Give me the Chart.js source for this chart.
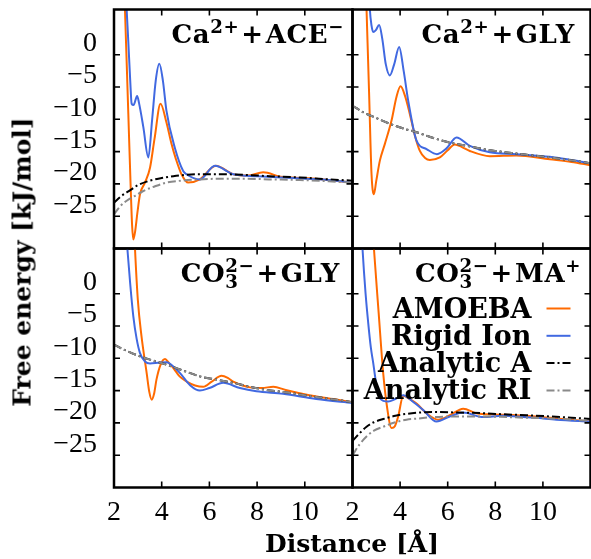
<!DOCTYPE html>
<html>
<head>
<meta charset="utf-8">
<script src="https://cdn.jsdelivr.net/npm/chart.js@4.4.1/dist/chart.umd.min.js"></script>
<style>
  body { margin: 0; background: #fff; }
  #fig { position: relative; width: 591px; height: 559px; overflow: hidden; }
  #fig canvas { position: absolute; left: 0; top: 0; }
  .lbl { position: absolute; font-family: "DejaVu Serif", serif; font-weight: bold; font-size: 25px; line-height: 1; white-space: nowrap; color: #000; }
  .ttl { font-size: 26px; letter-spacing: 0.6px; }
  .sp { font-size: 0.7em; position: relative; top: -0.55em; }
  .st { display: inline-block; position: relative; font-size: 0.7em; }
  .st .p { position: relative; top: -0.55em; }
  .st .b { position: absolute; left: 0; top: 0.33em; }
  .op { margin: 0 2px; }
  #ylab { left: 22px; top: 262px; transform: translate(-50%, -50%) rotate(-90deg); }
  #xlab { left: 352px; top: 543px; transform: translate(-50%, -50%); }
</style>
</head>
<body>
<div id="fig">
  <canvas id="tl" width="591" height="559"></canvas>
  <canvas id="tr" width="591" height="559"></canvas>
  <canvas id="bl" width="591" height="559"></canvas>
  <canvas id="br" width="591" height="559"></canvas>
  <div class="lbl ttl" style="right:247px;top:21px">Ca<span class="sp">2+</span><span class="op">+</span>ACE<span class="sp">&minus;</span></div>
  <div class="lbl ttl" style="right:16px;top:21px">Ca<span class="sp">2+</span><span class="op">+</span>GLY</div>
  <div class="lbl ttl" style="right:251px;top:260px">CO<span class="st"><span class="p">2&minus;</span><span class="b">3</span></span><span class="op">+</span>GLY</div>
  <div class="lbl ttl" style="right:10px;top:260px">CO<span class="st"><span class="p">2&minus;</span><span class="b">3</span></span><span class="op">+</span>MA<span class="sp">+</span></div>
  <div class="lbl" id="ylab">Free energy [kJ/mol]</div>
  <div class="lbl" id="xlab">Distance [Å]</div>
</div>
<script>
// axes
const xTicks = [2, 4, 6, 8, 10, 12];
const yTicks = [-25, -20, -15, -10, -5, 0];
const seriesNames = ['AMOEBA', 'Rigid Ion', 'Analytic A', 'Analytic RI'];

// Ca2+ + ACE-
const aceAmoebaR = [2.40, 2.50, 2.60, 2.70, 2.76, 2.81, 2.88, 2.98, 3.09, 3.30, 3.51, 3.70, 3.95, 4.20, 4.41, 4.60, 4.83, 5.11, 5.60, 6.27, 7.00, 7.60, 8.26, 9.00, 10.0, 11.0, 12.0];
const aceAmoebaG = [13.9, 2.4, -9.1, -20.6, -26.5, -28.6, -27.5, -24.5, -21.6, -19.8, -17.5, -13.0, -7.6, -10.5, -13.8, -16.2, -18.5, -19.8, -19.3, -17.2, -18.5, -18.7, -18.2, -18.9, -19.1, -19.4, -19.8];
const aceRigidR = [2.45, 2.53, 2.60, 2.68, 2.74, 2.82, 2.97, 3.05, 3.23, 3.44, 3.60, 3.75, 3.90, 4.05, 4.20, 4.55, 4.90, 5.04, 5.60, 6.23, 7.00, 8.00, 9.00, 10.0, 11.0, 12.0];
const aceRigidG = [13.0, 7.0, 2.0, -4.0, -7.6, -7.8, -6.4, -7.5, -11.2, -15.9, -10.0, -4.0, -1.4, -4.0, -8.7, -14.4, -18.0, -18.5, -19.3, -17.2, -18.5, -18.8, -19.0, -19.2, -19.4, -19.8];
const aceAR = [2.0, 2.3, 2.67, 3.0, 3.5, 4.0, 4.49, 5.0, 5.6, 6.5, 7.5, 8.5, 9.8, 11.0, 12.0];
const aceAG = [-22.9, -21.9, -21.0, -20.2, -19.5, -19.1, -18.8, -18.6, -18.5, -18.5, -18.6, -18.8, -19.0, -19.3, -19.5];
const aceRIR = [2.0, 2.25, 2.53, 2.9, 3.23, 3.7, 4.2, 4.8, 5.6, 6.5, 7.5, 8.5, 9.8, 11.0, 12.0];
const aceRIG = [-24.7, -23.5, -22.6, -21.8, -21.1, -20.4, -19.8, -19.5, -19.3, -19.2, -19.2, -19.3, -19.4, -19.6, -19.8];

// Ca2+ + GLY
const cgAmoebaR = [2.50, 2.59, 2.70, 2.80, 2.90, 3.00, 3.15, 3.36, 3.64, 3.85, 4.02, 4.20, 4.41, 4.62, 4.83, 5.05, 5.25, 5.67, 6.00, 6.30, 6.60, 6.93, 7.77, 8.89, 10.29, 11.2, 12.0];
const cgAmoebaG = [17.9, 7.0, -6.3, -18.5, -21.6, -19.5, -16.4, -13.8, -10.2, -6.5, -4.9, -6.3, -9.2, -12.5, -14.9, -16.0, -16.3, -15.9, -14.8, -13.9, -14.3, -14.9, -15.7, -15.6, -16.2, -16.6, -17.1];
const cgRigidR = [2.65, 2.73, 2.80, 2.87, 2.98, 3.12, 3.25, 3.40, 3.57, 3.75, 3.96, 4.15, 4.34, 4.69, 5.11, 5.55, 5.95, 6.37, 6.93, 7.77, 8.89, 10.29, 11.2, 12.0];
const cgRigidG = [14.0, 7.0, 4.5, 3.5, 3.8, 4.6, 2.5, -1.5, -3.2, -1.5, 1.2, -2.5, -7.1, -13.3, -14.6, -15.4, -14.5, -12.8, -14.1, -15.1, -15.4, -15.8, -16.3, -16.8];
const cgAnR = [2.0, 2.5, 3.0, 3.57, 4.2, 4.69, 5.4, 6.09, 6.8, 7.49, 8.2, 8.89, 9.6, 10.29, 11.1, 12.0];
const cgAnG = [-7.9, -9.0, -9.8, -10.7, -11.5, -12.0, -12.9, -13.6, -14.1, -14.6, -15.0, -15.3, -15.6, -15.9, -16.3, -16.8];

// CO3 2- + GLY
const ogAmoebaR = [2.80, 2.88, 3.00, 3.15, 3.37, 3.48, 3.58, 3.68, 3.78, 3.95, 4.14, 4.30, 4.49, 4.75, 5.05, 5.40, 5.74, 6.10, 6.51, 6.80, 7.00, 7.70, 8.20, 8.68, 9.20, 9.79, 10.5, 11.2, 12.0];
const ogAmoebaG = [14.0, 7.0, -1.0, -6.5, -12.3, -15.2, -16.4, -15.5, -13.3, -11.0, -10.1, -10.7, -11.5, -12.8, -13.6, -14.2, -14.4, -13.6, -12.7, -13.1, -13.6, -14.5, -14.6, -14.4, -14.9, -15.4, -15.9, -16.3, -16.8];
const ogRigidR = [2.45, 2.56, 2.68, 2.81, 2.95, 3.09, 3.30, 3.51, 3.85, 4.21, 4.50, 4.77, 5.20, 5.60, 6.00, 6.58, 7.28, 7.97, 9.09, 10.48, 12.0];
const ogRigidG = [13.0, 7.0, 1.5, -3.5, -7.0, -9.2, -10.5, -10.8, -10.7, -10.6, -11.3, -12.3, -14.2, -15.0, -14.6, -13.8, -14.6, -15.1, -15.5, -16.3, -16.9];
const ogAnR = [2.0, 2.5, 3.09, 3.6, 4.21, 4.9, 5.6, 6.3, 7.0, 7.7, 8.4, 9.1, 9.79, 10.9, 12.0];
const ogAnG = [-7.9, -8.8, -9.7, -10.3, -11.0, -11.9, -12.8, -13.3, -13.8, -14.4, -14.9, -15.2, -15.6, -16.2, -16.8];

// CO3 2- + MA+
const omAmoebaR = [2.85, 2.90, 3.10, 3.29, 3.45, 3.64, 3.78, 3.92, 4.13, 4.40, 4.69, 5.11, 5.60, 6.09, 6.65, 7.21, 8.00, 8.90, 9.70, 10.57, 12.0];
const omAmoebaG = [10.0, 7.0, -3.0, -12.3, -17.5, -20.8, -20.5, -19.0, -15.8, -16.3, -17.0, -18.5, -19.5, -18.8, -17.8, -18.5, -18.7, -18.8, -19.0, -19.3, -19.8];
const omRigidR = [2.35, 2.42, 2.55, 2.66, 2.77, 2.87, 3.00, 3.15, 3.50, 3.80, 4.13, 4.50, 4.97, 5.53, 6.09, 6.65, 7.49, 8.30, 8.89, 9.70, 10.57, 12.0];
const omRigidG = [12.0, 7.0, 0.0, -4.5, -8.3, -10.7, -14.0, -16.2, -16.7, -16.3, -15.7, -16.6, -18.0, -19.8, -19.0, -18.4, -19.1, -18.9, -19.0, -19.2, -19.5, -19.8];
const omAnR = [2.0, 2.3, 2.59, 2.9, 3.29, 3.8, 4.27, 4.8, 5.39, 6.5, 7.5, 8.5, 9.3, 10.29, 11.2, 12.0];
const omAG = [-22.8, -21.6, -20.6, -19.9, -19.4, -18.9, -18.6, -18.4, -18.3, -18.4, -18.5, -18.7, -18.8, -19.0, -19.2, -19.4];
const omRIG = [-25.0, -23.3, -22.1, -21.2, -20.6, -19.9, -19.5, -19.3, -19.1, -19.0, -19.0, -19.1, -19.2, -19.3, -19.5, -19.7];

// styles
const W = 591, H = 559;
const lineColors = ['#ff6a00', '#4169e1', '#000000', '#8a8a8a'];
const lineDash = [[], [], [8, 3, 2, 3], [8, 3, 2, 3]];
const tickFont = { family: 'Liberation Serif', size: 28 };

// inward ticks on all four sides + frame
const frame = {
  id: 'frame',
  afterDatasetsDraw(chart) {
    const { ctx, chartArea: a, scales: { x, y } } = chart;
    ctx.save();
    ctx.strokeStyle = '#000';
    ctx.lineWidth = 1.6;
    ctx.beginPath();
    x.ticks.forEach(t => {
      if (t.value <= x.min || t.value >= x.max) return;
      const px = x.getPixelForValue(t.value);
      ctx.moveTo(px, a.top); ctx.lineTo(px, a.top + 6);
      ctx.moveTo(px, a.bottom); ctx.lineTo(px, a.bottom - 6);
    });
    y.ticks.forEach(t => {
      const py = y.getPixelForValue(t.value);
      ctx.moveTo(a.left, py); ctx.lineTo(a.left + 6, py);
      ctx.moveTo(a.right, py); ctx.lineTo(a.right - 6, py);
    });
    ctx.stroke();
    ctx.lineWidth = 2.5;
    ctx.strokeRect(a.left, a.top, a.right - a.left, a.bottom - a.top);
    ctx.restore();
  }
};

// legend drawn inside the plot: text on the left, line sample on the right
const sideLegend = {
  id: 'sideLegend',
  afterDraw(chart, args, o) {
    if (!o.show) return;
    const { ctx, chartArea: a } = chart;
    ctx.save();
    ctx.font = 'bold 27px "DejaVu Serif"';
    ctx.textAlign = 'right';
    ctx.textBaseline = 'middle';
    chart.data.datasets.forEach((d, i) => {
      const y = a.top + o.top + i * o.gap;
      ctx.fillStyle = '#000';
      ctx.fillText(d.label, a.right - o.textRight, y + 2);
      ctx.strokeStyle = d.borderColor;
      ctx.lineWidth = d.borderWidth;
      ctx.setLineDash(d.borderDash);
      ctx.beginPath();
      ctx.moveTo(a.right - o.lineRight - o.len, y);
      ctx.lineTo(a.right - o.lineRight, y);
      ctx.stroke();
    });
    ctx.restore();
  }
};

// every panel keeps both axes for layout; labels only where the reference shows them
function makePanel(id, area, showX, showY, series, withLegend) {
  const datasets = series.map((s, i) => ({
    label: seriesNames[i],
    data: s[0].map((r, k) => ({ x: r, y: s[1][k] })),
    borderColor: lineColors[i],
    borderWidth: 2,
    borderDash: lineDash[i],
    order: 3 - i,
    pointRadius: 0,
    fill: false,
    cubicInterpolationMode: 'monotone'
  }));
  return new Chart(document.getElementById(id), {
    type: 'line',
    data: { datasets },
    options: {
      responsive: false,
      animation: false,
      devicePixelRatio: 1,
      layout: { padding: { left: 0, top: area.t, right: W - area.r, bottom: 0 } },
      scales: {
        x: {
          type: 'linear', min: 2, max: 12,
          afterBuildTicks: s => { s.ticks = xTicks.map(v => ({ value: v })); },
          afterFit: s => { s.height = H - area.b; s.paddingLeft = 0; s.paddingRight = 0; },
          grid: { display: false, drawTicks: false },
          border: { display: false },
          ticks: {
            display: showX, autoSkip: false, maxRotation: 0, padding: 8, color: '#000', font: tickFont,
            callback: v => (v === 12 ? '' : String(v))
          }
        },
        y: {
          type: 'linear', min: -30, max: 7,
          afterBuildTicks: s => { s.ticks = yTicks.map(v => ({ value: v })); },
          afterFit: s => { s.width = area.l; s.paddingTop = 0; s.paddingBottom = 0; },
          grid: { display: false, drawTicks: false },
          border: { display: false },
          ticks: {
            display: showY, autoSkip: false, padding: 17, labelOffset: -11, color: '#000', font: tickFont,
            callback: v => (v < 0 ? '\u2212' + (-v) : String(v))
          }
        }
      },
      plugins: {
        legend: { display: false },
        tooltip: { enabled: false },
        sideLegend: { show: withLegend, top: 60, gap: 27.3, textRight: 59, lineRight: 20, len: 24 }
      }
    },
    plugins: [frame, sideLegend]
  });
}

makePanel('tl', { l: 114, t: 9.5, r: 352.5, b: 248.5 }, false, true,
  [[aceAmoebaR, aceAmoebaG], [aceRigidR, aceRigidG], [aceAR, aceAG], [aceRIR, aceRIG]], false);
makePanel('tr', { l: 352.5, t: 9.5, r: 590.5, b: 248.5 }, false, false,
  [[cgAmoebaR, cgAmoebaG], [cgRigidR, cgRigidG], [cgAnR, cgAnG], [cgAnR, cgAnG]], false);
makePanel('bl', { l: 114, t: 248.5, r: 352.5, b: 487.5 }, true, true,
  [[ogAmoebaR, ogAmoebaG], [ogRigidR, ogRigidG], [ogAnR, ogAnG], [ogAnR, ogAnG]], false);
makePanel('br', { l: 352.5, t: 248.5, r: 590.5, b: 487.5 }, true, false,
  [[omAmoebaR, omAmoebaG], [omRigidR, omRigidG], [omAnR, omAG], [omAnR, omRIG]], true);
</script>
</body>
</html>
